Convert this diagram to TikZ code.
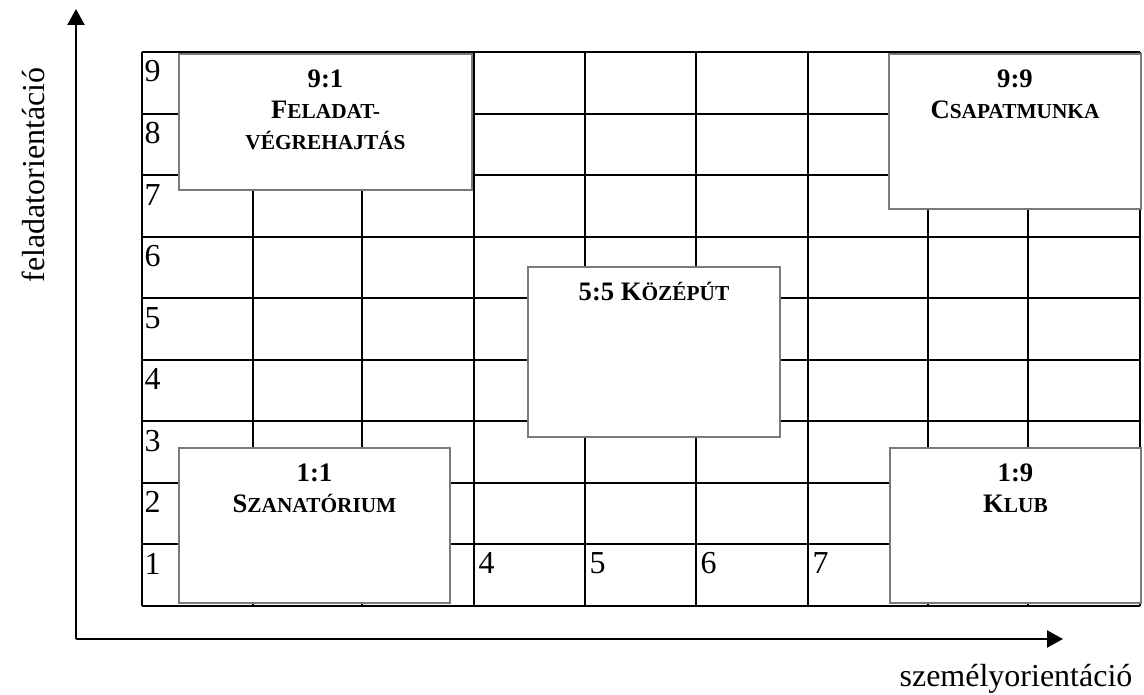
\documentclass[tikz,border=0pt]{standalone}
\usepackage{fontspec}
\setmainfont{Liberation Serif}
\usepackage{tikz}
\usetikzlibrary{positioning,arrows.meta,calc,fit}
\usepackage{xcolor}
\definecolor{gridblack}{HTML}{000000}
\definecolor{boxgray}{HTML}{7A7A7A}
% first letter big, rest as small caps
\newcommand{\fsc}[2]{{\fontsize{10}{11.6}\selectfont #1}{\fontsize{8}{11.6}\selectfont #2}}
\newcommand{\smc}[1]{{\fontsize{8}{11.6}\selectfont #1}}

\begin{document}
\begin{tikzpicture}[
          x=0.375pt, y=-0.375pt,
          font=\fontsize{10}{11.6}\selectfont,
          gridline/.style={draw=gridblack,line width=0.75pt},
          box/.style={draw=boxgray,line width=0.5pt,fill=white,inner sep=0pt},
          lbl/.style={anchor=base,align=center,inner sep=0pt,font=\bfseries\fontsize{10}{11.6}\selectfont},
          num/.style={anchor=base west,inner sep=0pt,font=\fontsize{12}{14}\selectfont},
          axis/.style={-{Triangle[length=6pt,width=6.4pt]},line width=0.75pt,gridblack},
          axlbl/.style={anchor=base,inner sep=0pt,font=\fontsize{12}{14}\selectfont}]
        \useasboundingbox (0,0) rectangle (1144,695);
        % axes
        \coordinate (origin) at (76,639);
        \coordinate (ytip) at (76,9);
        \coordinate (xtip) at (1063,639);
        \draw[axis] (origin) -- (ytip);
        \draw[axis] (origin) -- (xtip);
        \node[axlbl,rotate=90] (ylbl) at (45,175) {feladatorientáció};
        \node[axlbl] (xlbl) at (1016,686) {személyorientáció};
        % grid
        \foreach \r in {0,...,9}
          \draw[gridline] (142,{52+61.55*\r}) -- (1140,{52+61.55*\r});
        \foreach \c in {142,253,362,474,585,696,808,928,1028,1140}
          \draw[gridline] (\c,52) -- (\c,606);
        \foreach \n in {1,...,9}
          \node[num] (row\n) at (144,{52+61.55*(9-\n)+30}) {\n};
        \foreach \n/\c in {4/474,5/585,6/696,7/808}
          \node[num] (col\n) at (\c+4,{544.4+29}) {\n};
        % style boxes (label base = last line)
        \node[box,fit={(179,54) (472,190)}] (b91) {};
        \node[box,fit={(889,54) (1141,209)}] (b99) {};
        \node[box,fit={(528,267) (780,437)}] (b55) {};
        \node[box,fit={(179,448) (450,603)}] (b11) {};
        \node[box,fit={(890,448) (1141,603)}] (b19) {};
        \node[lbl] (t91) at ($(b91.north)+(0,96)$) {9:1\\\fsc{F}{ELADAT-}\\\smc{VÉGREHAJTÁS}};
        \node[lbl] (t99) at ($(b99.north)+(0,65)$) {9:9\\\fsc{C}{SAPATMUNKA}};
        \node[lbl] (t55) at ($(b55.north)+(0,34)$) {5:5 \fsc{K}{ÖZÉPÚT}};
        \node[lbl] (t11) at ($(b11.north)+(0,65)$) {1:1\\\fsc{S}{ZANATÓRIUM}};
        \node[lbl] (t19) at ($(b19.north)+(0,65)$) {1:9\\\fsc{K}{LUB}};
      \end{tikzpicture}
\end{document}
